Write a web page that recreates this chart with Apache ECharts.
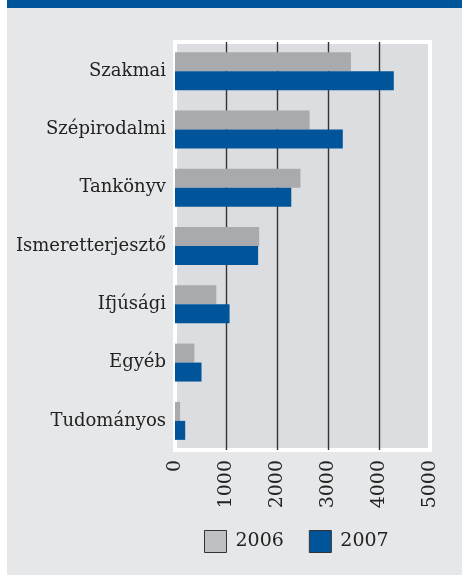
<!DOCTYPE html>
<html>
<head>
    <meta charset="utf-8">
    <title>Könyvkiadás</title>
    <script src="https://cdn.jsdelivr.net/npm/echarts@6/dist/echarts.min.js"></script>
    <style>
        html, body, #main {
            width: 100%;
            height: 100%;
            margin: 0;
            background: #ffffff;
        }
    </style>
</head>
<body>
    <div id="main"></div>
    <script type="text/javascript">
        // kategóriák és értékek (felülről lefelé)
        var categories = ['Szakmai', 'Szépirodalmi', 'Tankönyv', 'Ismeretterjesztő', 'Ifjúsági', 'Egyéb', 'Tudományos'];
        var values2006 = [3450, 2640, 2460, 1650, 810, 380, 100];
        var values2007 = [4290, 3290, 2280, 1630, 1070, 520, 200];
        var xTicks = [0, 1000, 2000, 3000, 4000, 5000];

        var serif = '"DejaVu Serif", "Liberation Serif", serif';
        var myChart = echarts.init(document.getElementById('main'));

        var option = {
            backgroundColor: '#e6e7e9',
            animation: false,
            graphic: [
                { type: 'rect', left: 0, top: 0, shape: { width: 7, height: 575 }, style: { fill: '#ffffff' } },
                { type: 'rect', left: 7, top: 0, shape: { width: 455, height: 8 }, style: { fill: '#00559a' } }
            ],
            grid: {
                left: 175,
                right: 32,
                top: 42,
                bottom: 125,
                show: true,
                backgroundColor: '#dcdde0',
                borderColor: '#ffffff',
                borderWidth: 4
            },
            legend: {
                bottom: 17,
                left: 199,
                icon: 'rect',
                itemWidth: 22,
                itemHeight: 22,
                itemGap: 25,
                textStyle: { fontFamily: serif, fontSize: 19, color: '#222', padding: [0, 0, 0, 4] },
                data: [
                    { name: '2006', itemStyle: { color: '#bfc0c3', borderColor: '#333', borderWidth: 1 } },
                    { name: '2007', itemStyle: { color: '#00559a', borderColor: '#333', borderWidth: 1 } }
                ]
            },
            xAxis: {
                type: 'value',
                min: xTicks[0],
                max: xTicks[xTicks.length - 1],
                interval: 1000,
                axisLine: { show: false },
                axisTick: { show: false },
                axisLabel: {
                    rotate: 90,
                    margin: 10,
                    fontFamily: serif,
                    fontSize: 19,
                    color: '#222',
                    formatter: function (v) { return String(v); }
                },
                splitLine: {
                    show: true,
                    showMinLine: false,
                    showMaxLine: false,
                    lineStyle: { color: '#333', width: 1.4 }
                }
            },
            yAxis: {
                type: 'category',
                inverse: true,
                data: categories,
                axisLine: { show: false },
                axisTick: { show: false },
                axisLabel: {
                    margin: 9,
                    fontFamily: serif,
                    fontSize: 18,
                    color: '#222'
                }
            },
            series: [
                {
                    name: '2006',
                    type: 'bar',
                    data: values2006,
                    barWidth: 19,
                    barGap: '0%',
                    itemStyle: { color: '#a9aaad' }
                },
                {
                    name: '2007',
                    type: 'bar',
                    data: values2007,
                    barWidth: 19,
                    barGap: '0%',
                    itemStyle: { color: '#00559a' }
                }
            ]
        };

        myChart.setOption(option, true);
    </script>
</body>
</html>
